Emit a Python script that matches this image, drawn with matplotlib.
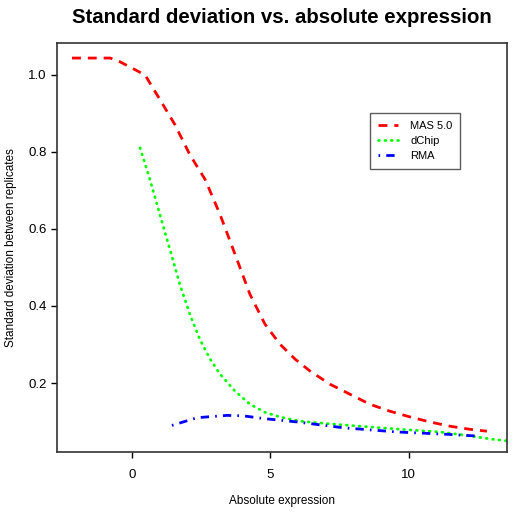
import matplotlib
matplotlib.use("Agg")
import matplotlib.pyplot as plt

plt.rcParams['font.family'] = ['Liberation Sans', 'DejaVu Sans']

mas_x = [-2.17, -0.79, -0.43, 0.0, 0.47, 1.01, 1.55, 2.09, 2.64, 3.18, 3.72, 4.26, 4.80, 5.34, 5.89, 6.43, 7.15, 7.87, 8.59, 9.31, 10.04, 10.76, 11.48, 12.20, 12.82]
mas_y = [1.043, 1.043, 1.033, 1.017, 0.999, 0.935, 0.870, 0.792, 0.728, 0.637, 0.534, 0.430, 0.353, 0.301, 0.262, 0.231, 0.197, 0.171, 0.145, 0.127, 0.112, 0.099, 0.088, 0.080, 0.075]

dchip_x = [0.29, 0.65, 1.01, 1.37, 1.73, 2.09, 2.45, 2.82, 3.18, 3.72, 4.26, 4.80, 5.34, 6.06, 7.15, 8.23, 9.68, 11.12, 12.20, 12.92, 13.54]
dchip_y = [0.810, 0.727, 0.636, 0.546, 0.455, 0.378, 0.313, 0.262, 0.223, 0.179, 0.145, 0.124, 0.112, 0.101, 0.094, 0.088, 0.080, 0.073, 0.063, 0.055, 0.050]

rma_x = [1.44, 2.35, 3.43, 4.00, 4.73, 5.96, 7.62, 9.57, 11.37, 12.56]
rma_y = [0.090, 0.110, 0.116, 0.115, 0.108, 0.099, 0.084, 0.073, 0.067, 0.062]

series = ["MAS 5.0", "dChip", "RMA"]
xticks = [0, 5, 10]
yticks = [0.2, 0.4, 0.6, 0.8, 1.0]

fig = plt.figure(figsize=(5.14, 5.14), dpi=100)
ax = fig.add_axes([0.111, 0.1206, 0.875, 0.7957])

ax.plot(mas_x, mas_y, color='#ff0000', lw=2, linestyle=(0, (3.2, 2.5)), label=series[0])
ax.plot(dchip_x, dchip_y, color='#00ff00', lw=2, linestyle=(0, (0.3, 2.0)), dash_capstyle='round', label=series[1])
ax.plot(rma_x, rma_y, color='#0000ff', lw=2, linestyle=(0, (0.6, 2.2, 3.0, 2.2)), label=series[2])

ax.set_xlim(-2.71, 13.54)
ax.set_ylim(0.021, 1.082)
ax.set_xticks(xticks)
ax.set_xticklabels([str(t) for t in xticks])
ax.set_yticks(yticks)
ax.set_yticklabels([f"{t:.1f}" for t in yticks])
ax.tick_params(direction='out', length=4.3, width=1, labelsize=9.5)
ax.tick_params(axis='y', pad=3)
ax.tick_params(axis='x', pad=8)
for s in ax.spines.values():
    s.set_linewidth(1.2)
    s.set_color('#333333')

ax.set_xlabel("Absolute expression", fontsize=8.5)
ax.xaxis.set_label_coords(0.5, -0.105)
ax.set_ylabel("Standard deviation between replicates", fontsize=8.5)
ax.yaxis.set_label_coords(-0.089, 0.5)
ax.text(0.5, 0.965, "Standard deviation vs. absolute expression", transform=ax.transAxes,
        fontsize=14.7, fontweight='bold', ha='center', va='center')
ax.texts[-1].set_transform(matplotlib.transforms.blended_transform_factory(ax.transAxes, fig.transFigure))

leg = ax.legend(loc='upper left', bbox_to_anchor=(0.696, 0.829), fontsize=8, frameon=True,
                fancybox=False, edgecolor='#333333', handlelength=1.8, handletextpad=1.1,
                borderpad=0.7, labelspacing=0.45, borderaxespad=0)
leg.get_frame().set_linewidth(1.0)

fig.savefig("out.png", dpi=100)
